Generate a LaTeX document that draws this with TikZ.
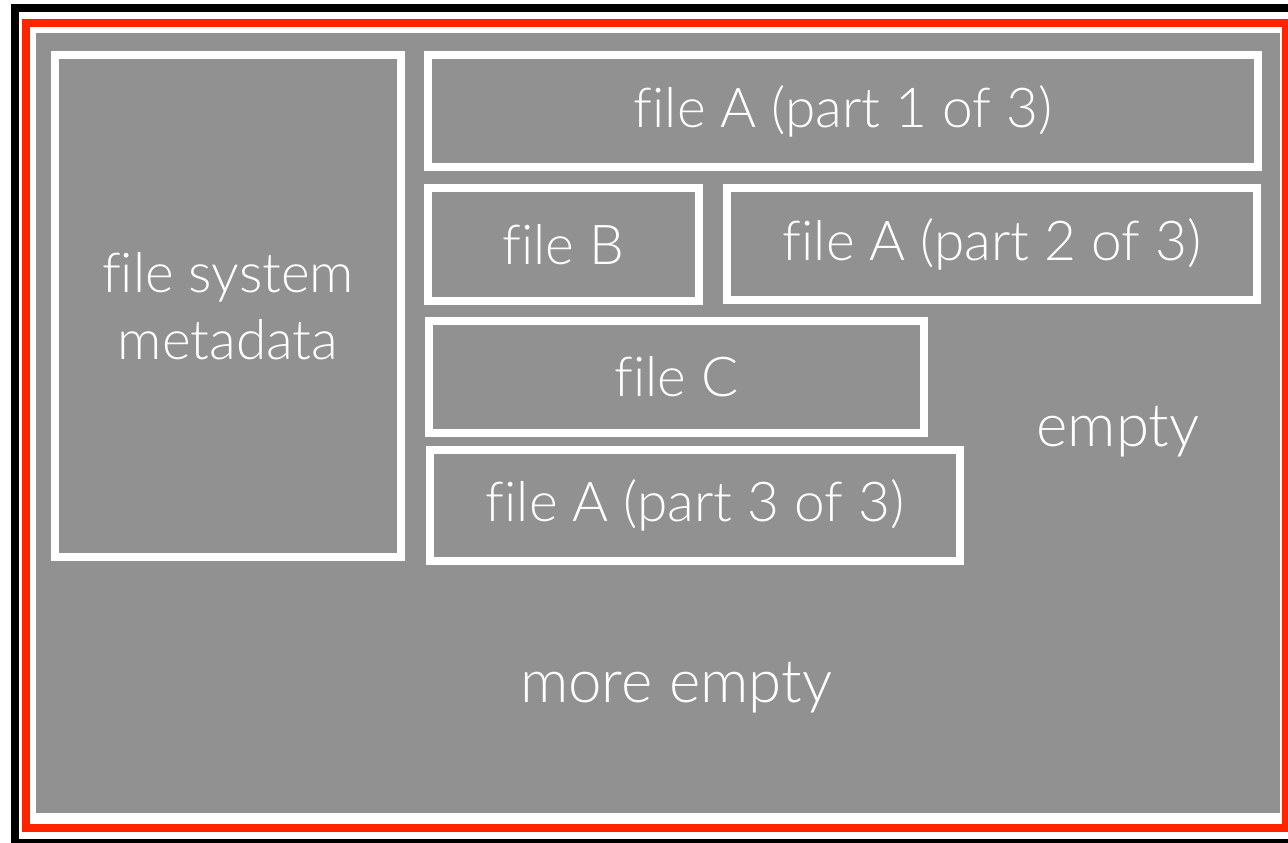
\documentclass[tikz,border=0pt]{standalone}
\usepackage{fontspec}
\setmainfont[Ligatures=NoCommon]{Lato Light}
\definecolor{bg}{HTML}{919191}
\definecolor{redline}{HTML}{FF2400}
\begin{document}
\begin{tikzpicture}[x=1pt,y=-1pt,
  box/.style={draw=white, line width=8pt, inner sep=0pt, text=white, font=\fontsize{55}{67}\selectfont, align=center},
  lbl/.style={text=white, inner sep=0pt, font=\fontsize{60}{67}\selectfont}]
\useasboundingbox (0,0) rectangle (1288,843);
\fill[white] (0,0) rectangle (1288,843);
\begin{scope}
\clip (0,0) rectangle (1288,843);
\draw[black, line width=8pt] (15,8) rectangle (1297,843);
\draw[redline, line width=8pt] (26,23) rectangle (1286,828);
\end{scope}
\fill[bg] (36,33) rectangle (1280,813);
\node[box, minimum width=346pt, minimum height=502pt] (meta) at (228,306) {file system\\metadata};
\node[box, minimum width=830pt, minimum height=112pt] (a1) at (843,111) {file A (part 1 of 3)};
\node[box, minimum width=271pt, minimum height=113pt] (b) at (563.5,244.5) {file B};
\node[box, minimum width=530pt, minimum height=112pt] (a2) at (992,244) {file A (part 2 of 3)};
\node[box, minimum width=495pt, minimum height=112pt] (c) at (676.5,377) {file C};
\node[box, minimum width=530pt, minimum height=111pt] (a3) at (695,505.5) {file A (part 3 of 3)};
\node[lbl] (empty) at (1118,432) {empty};
\node[lbl] (more) at (676,688) {more empty};
\end{tikzpicture}
\end{document}
